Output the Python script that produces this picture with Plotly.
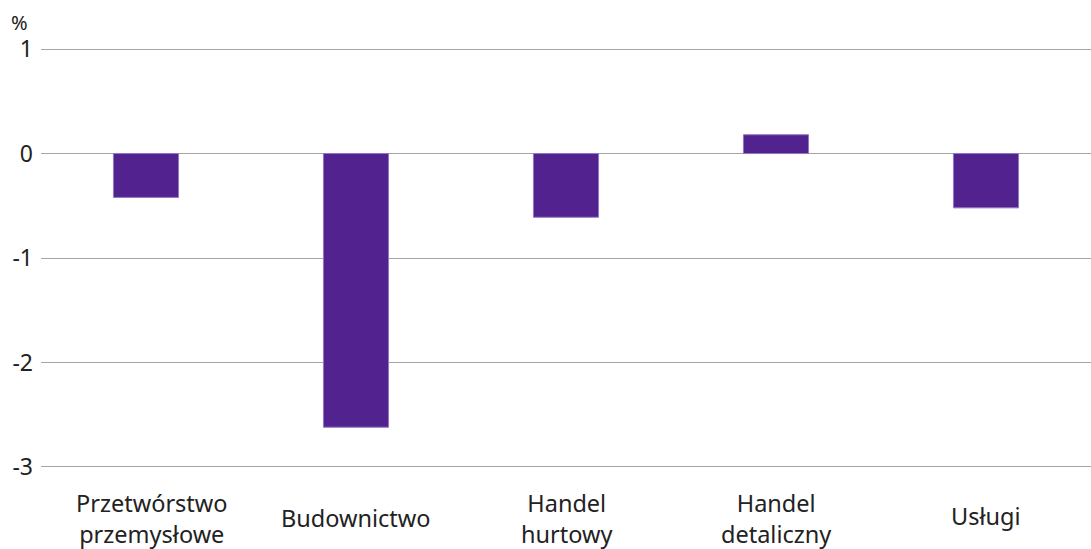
import plotly.graph_objects as go

categories = ["Przetwórstwo<br>przemysłowe", "Budownictwo", "Handel<br>hurtowy", "Handel<br>detaliczny", "Usługi"]
values = [-0.42, -2.62, -0.61, 0.18, -0.52]
label_offsets = [-0.117, -0.116, -0.117, -0.118, -0.111]
y_ticks = [1, 0, -1, -2, -3]

FONT = "Noto Sans"
fig = go.Figure()
fig.add_trace(go.Bar(
    x=categories, y=values,
    marker=dict(color="#52238f", line=dict(color="#8f78c4", width=1)),
    width=0.31,
))
for i, (c, off) in enumerate(zip(categories, label_offsets)):
    fig.add_annotation(x=c, y=off, xref="x", yref="paper", text=c, showarrow=False,
                       yanchor="middle", xshift=6 if i == 0 else 0,
                       font=dict(family=FONT, size=23.5, color="#222"))
fig.add_annotation(x=0, y=1.0, xref="paper", yref="paper", text="%", showarrow=False,
                   xanchor="right", yanchor="middle", xshift=-11, yshift=25,
                   font=dict(family=FONT, size=20, color="#222"))
fig.update_layout(
    width=1091, height=549,
    margin=dict(l=41, r=0, t=47, b=80),
    plot_bgcolor="white", paper_bgcolor="white",
    showlegend=False,
    font=dict(family=FONT, size=24, color="#222"),
    xaxis=dict(showticklabels=False, showgrid=False, zeroline=False, showline=False),
    yaxis=dict(range=[-3.02, 1.02], tickvals=y_ticks, ticktext=[str(v) for v in y_ticks],
               showgrid=True, gridcolor="#a6a6a6", gridwidth=1,
               zeroline=True, zerolinecolor="#a6a6a6", zerolinewidth=1,
               showline=False, ticks="", ticklabelstandoff=7, automargin=False,
               tickfont=dict(family=FONT, size=23, color="#222")),
)
fig.write_html("out.html", config={"displayModeBar": False},
               post_script="document.body.style.margin='0';document.body.style.overflow='hidden';")
